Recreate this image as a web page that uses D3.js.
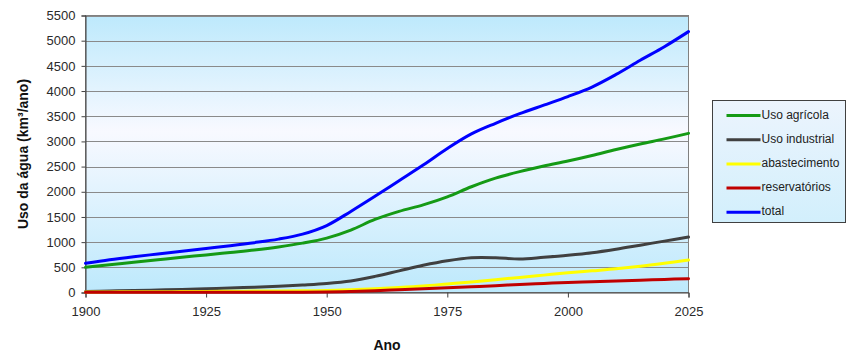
<!DOCTYPE html>
<html>
<head>
<meta charset="utf-8">
<script src="https://cdn.jsdelivr.net/npm/d3@7"></script>
<style>
  html, body { margin: 0; padding: 0; background: #ffffff; }
  svg { display: block; font-family: "Liberation Sans", Arial, sans-serif; }
</style>
</head>
<body>
<svg id="chart" width="850" height="360"></svg>
<script>
// Water use by sector, km³ per year
const years = [1900, 1905, 1910, 1915, 1920, 1925, 1930, 1935, 1940, 1945,
               1950, 1955, 1960, 1965, 1970, 1975, 1980, 1985, 1990, 1995,
               2000, 2005, 2010, 2015, 2020, 2025];

const agricola = [500, 550, 600, 650, 700, 745, 795, 845, 905, 980,
                  1080, 1240, 1450, 1610, 1740, 1900, 2100, 2270, 2400, 2510,
                  2610, 2720, 2840, 2950, 3050, 3160];

const industrial = [20, 30, 40, 50, 60, 73, 90, 105, 125, 150,
                    180, 230, 320, 430, 540, 630, 690, 690, 665, 700,
                    740, 790, 860, 940, 1020, 1100];

const abastecimento = [10, 12, 14, 16, 18, 20, 24, 28, 32, 36,
                       40, 55, 75, 100, 130, 170, 210, 255, 300, 345,
                       390, 430, 470, 520, 580, 645];

const reservatorios = [5, 5, 5, 5, 5, 5, 5, 5, 5, 6,
                       10, 20, 35, 55, 75, 95, 115, 135, 160, 180,
                       200, 215, 230, 245, 260, 275];

const total = [580, 650, 710, 765, 820, 875, 930, 990, 1060, 1160,
               1330, 1610, 1910, 2220, 2530, 2860, 3150, 3360, 3550, 3720,
               3890, 4080, 4330, 4610, 4880, 5180];

const seriesNames = ["Uso agrícola", "Uso industrial", "abastecimento", "reservatórios", "total"];
const seriesColors = ["#159a15", "#404040", "#ffff00", "#c00000", "#0000ff"];
const seriesValues = [agricola, industrial, abastecimento, reservatorios, total];

const xTicks = [1900, 1925, 1950, 1975, 2000, 2025];
const yTicks = d3.range(0, 5501, 500);

const svg = d3.select("#chart");
const plot = { left: 85.5, right: 688.5, top: 15.5, bottom: 292.5 };

const x = d3.scaleLinear().domain([1900, 2025]).range([plot.left, plot.right]);
const y = d3.scaleLinear().domain([0, 5500]).range([plot.bottom, plot.top]);

// Plot-area fill: light blue at top and bottom, fading to white in the middle
const defs = svg.append("defs");
const grad = defs.append("linearGradient")
  .attr("id", "plotFill").attr("x1", 0).attr("y1", 0).attr("x2", 0).attr("y2", 1);
grad.append("stop").attr("offset", "0%").attr("stop-color", "#bde9fc");
grad.append("stop").attr("offset", "42%").attr("stop-color", "#f8f9ff");
grad.append("stop").attr("offset", "100%").attr("stop-color", "#bde9fc");

const legGrad = defs.append("linearGradient")
  .attr("id", "legendFill").attr("x1", 0).attr("y1", 0).attr("x2", 0).attr("y2", 1);
legGrad.append("stop").attr("offset", "0%").attr("stop-color", "#ecf4fd");
legGrad.append("stop").attr("offset", "100%").attr("stop-color", "#d2effc");

svg.append("rect")
  .attr("x", plot.left).attr("y", plot.top)
  .attr("width", plot.right - plot.left).attr("height", plot.bottom - plot.top)
  .attr("fill", "url(#plotFill)")
  .attr("stroke", "#808080").attr("stroke-width", 1);

// Horizontal gridlines
svg.append("g")
  .selectAll("line")
  .data(yTicks.filter(d => d > 0))
  .join("line")
  .attr("x1", plot.left).attr("x2", plot.right)
  .attr("y1", d => Math.round(y(d)) + 0.5).attr("y2", d => Math.round(y(d)) + 0.5)
  .attr("stroke", "#8a8a8a").attr("stroke-width", 1);

// Axes
const yAxis = d3.axisLeft(y).tickValues(yTicks).tickSize(4).tickPadding(6).tickFormat(d3.format("d"));
const xAxis = d3.axisBottom(x).tickValues(xTicks).tickSize(5).tickPadding(9).tickFormat(d3.format("d"));

const gy = svg.append("g").attr("transform", `translate(${plot.left},0)`).call(yAxis);
const gx = svg.append("g").attr("transform", `translate(0,${plot.bottom})`).call(xAxis);

[gx, gy].forEach(g => {
  g.select(".domain").attr("stroke", "#404040");
  g.selectAll(".tick line").attr("stroke", "#404040");
  g.selectAll(".tick text")
    .attr("fill", "#2a2a2a")
    .style("font-size", "13px")
    .style("font-family", "'Liberation Sans', Arial, sans-serif");
});

// Series lines
const line = d3.line()
  .x((d, i) => x(years[i]))
  .y(d => y(d))
  .curve(d3.curveCatmullRom.alpha(0.5));

svg.append("g")
  .selectAll("path")
  .data(seriesValues)
  .join("path")
  .attr("d", d => line(d))
  .attr("fill", "none")
  .attr("stroke", (d, i) => seriesColors[i])
  .attr("stroke-width", 3)
  .attr("stroke-linejoin", "round")
  .attr("stroke-linecap", "round");

// Axis titles
svg.append("text")
  .attr("transform", `translate(24,${(plot.top + plot.bottom) / 2}) rotate(-90)`)
  .attr("text-anchor", "middle")
  .attr("dominant-baseline", "middle")
  .style("font-size", "14px").style("font-weight", "bold")
  .attr("fill", "#111")
  .text("Uso da água (km³/ano)");

svg.append("text")
  .attr("x", (plot.left + plot.right) / 2)
  .attr("y", 350)
  .attr("text-anchor", "middle")
  .style("font-size", "14px").style("font-weight", "bold")
  .attr("fill", "#111")
  .text("Ano");

// Legend
const legend = svg.append("g").attr("transform", "translate(712.5,100.5)");
legend.append("rect")
  .attr("width", 133).attr("height", 122)
  .attr("fill", "url(#legendFill)")
  .attr("stroke", "#404040").attr("stroke-width", 1);

const items = legend.selectAll("g.item")
  .data(seriesNames)
  .join("g")
  .attr("class", "item")
  .attr("transform", (d, i) => `translate(0,${15 + i * 24.2})`);

items.append("line")
  .attr("x1", 14).attr("x2", 48)
  .attr("y1", 0).attr("y2", 0)
  .attr("stroke", (d, i) => seriesColors[i])
  .attr("stroke-width", 3);

items.append("text")
  .attr("x", 49).attr("y", 0)
  .attr("dominant-baseline", "middle")
  .style("font-size", "12px")
  .attr("fill", "#222")
  .text(d => d);
</script>
</body>
</html>
